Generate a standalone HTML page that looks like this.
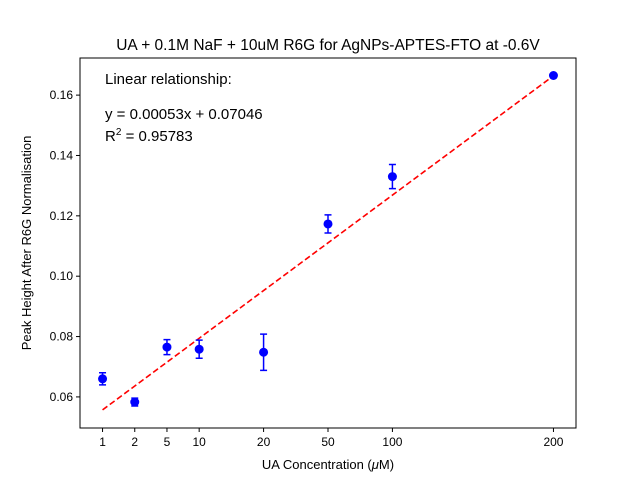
<!DOCTYPE html>
<html><head><meta charset="utf-8"><style>
body{margin:0;background:#fff;}
svg{font-family:"Liberation Sans","DejaVu Sans",sans-serif;}
</style></head><body>
<svg id="chart" width="640" height="480" xmlns="http://www.w3.org/2000/svg">
<text x="328" y="50" text-anchor="middle" font-size="15.5">UA + 0.1M NaF + 10uM R6G for AgNPs-APTES-FTO at -0.6V</text>
<g id="plot"></g>
<rect x="80" y="58" width="496" height="370" fill="none" stroke="#000" stroke-width="1"/>
<text x="105" y="84" font-size="15">Linear relationship:</text>
<text x="105" y="119" font-size="15">y = 0.00053x + 0.07046</text>
<text x="105" y="141" font-size="15">R<tspan dy="-6" font-size="10">2</tspan><tspan dy="6"> = 0.95783</tspan></text>
<text x="328" y="469" text-anchor="middle" font-size="13">UA Concentration (<tspan font-style="italic">μ</tspan>M)</text>
<text transform="translate(31,243) rotate(-90)" text-anchor="middle" font-size="13">Peak Height After R6G Normalisation</text>
</svg>
<script>
const categories=[1,2,5,10,20,50,100,200];
const catPositions=[1,2,3,4,6,8,10,15];
const values=[0.066,0.0583,0.0765,0.0758,0.0748,0.1173,0.1330,0.1665];
const errors=[0.0020,0.0013,0.0025,0.0030,0.0060,0.0030,0.0040,0.0];
const fitX=[1,200];
const fitY=[0.0557,0.1664];
const yTicks=[0.06,0.08,0.10,0.12,0.14,0.16];
const yTickLabels=["0.06","0.08","0.10","0.12","0.14","0.16"];

const NS="http://www.w3.org/2000/svg";
const plot=document.getElementById('plot');
const L=80,R=576,T=58,B=428;
const pMin=0.3,pMax=15.7,yMin=0.0497,yMax=0.1723;
function posOf(v){const i=categories.indexOf(v);return catPositions[i];}
function xs(v){return L+(posOf(v)-pMin)/(pMax-pMin)*(R-L);}
function ys(v){return B-(v-yMin)/(yMax-yMin)*(B-T);}
function mk(tag,attrs){const e=document.createElementNS(NS,tag);for(const k in attrs)e.setAttribute(k,attrs[k]);plot.appendChild(e);return e;}

categories.forEach((c,i)=>{
  const x=xs(c);
  const t=mk('line',{x1:x,x2:x,y1:B,y2:B+4,stroke:'#000'});
  
  
  const lb=mk('text',{x:x,y:B+18,'text-anchor':'middle','font-size':'12'});
  lb.textContent=String(c);
  
  
});
yTicks.forEach((v,i)=>{
  const y=ys(v);
  const t=mk('line',{x1:L-4,x2:L,y1:y,y2:y,stroke:'#000'});
  
  
  const lb=mk('text',{x:L-7,y:y+4,'text-anchor':'end','font-size':'12'});
  lb.textContent=yTickLabels[i];
  
  
});
const fl=mk('line',{x1:xs(fitX[0]),y1:ys(fitY[0]),x2:xs(fitX[1]),y2:ys(fitY[1]),stroke:'#ff0000','stroke-width':1.6,'stroke-dasharray':'6,3'});


categories.forEach((c,i)=>{
  const x=xs(c),y1=ys(values[i]-errors[i]),y2=ys(values[i]+errors[i]);
  if(errors[i]>0){
    const g=mk('path',{d:`M${x},${y1}V${y2}M${x-3.5},${y1}H${x+3.5}M${x-3.5},${y2}H${x+3.5}`,stroke:'#0000ff','stroke-width':1.5,fill:'none'});
    
    
  }
  const p=mk('circle',{cx:x,cy:ys(values[i]),r:4.5,fill:'#0000ff'});
  
  
});
</script>
</body></html>
